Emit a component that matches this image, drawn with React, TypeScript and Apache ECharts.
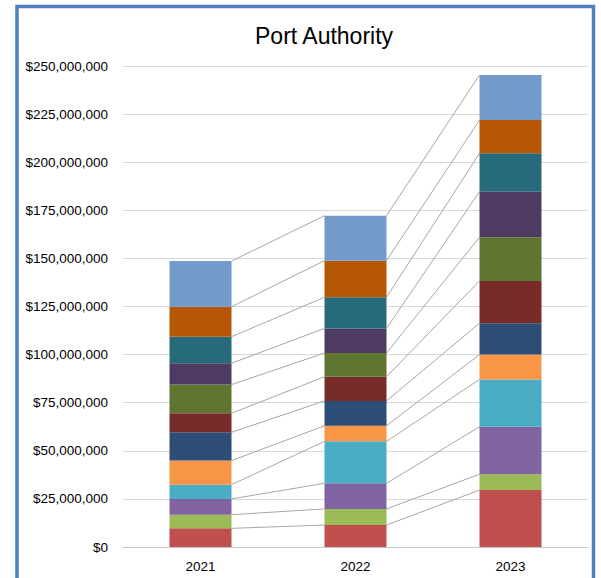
import React, { useEffect, useRef } from "react";
import * as echarts from "echarts";

const categories = ["2021", "2022", "2023"];
const seriesNames = [
  "S1", "S2", "S3", "S4", "S5", "S6", "S7", "S8", "S9", "S10", "S11", "S12",
];
const s1 = [9.7, 11.4, 29.6];
const s2 = [7.1, 8.4, 8.2];
const s3 = [8.2, 13.3, 24.7];
const s4 = [7.4, 21.8, 24.6];
const s5 = [12.5, 8.1, 12.9];
const s6 = [14.7, 12.9, 16.3];
const s7 = [9.9, 12.6, 22.0];
const s8 = [14.9, 12.3, 22.7];
const s9 = [11.1, 12.8, 23.7];
const s10 = [13.8, 16.2, 19.9];
const s11 = [15.6, 19.0, 17.3];
const s12 = [23.7, 23.4, 23.4];
const seriesValuesMillions = [s1, s2, s3, s4, s5, s6, s7, s8, s9, s10, s11, s12];
const colors = [
  "#C0504D", "#9BBB59", "#8064A2", "#4BACC6", "#F79646", "#2C4D75",
  "#772C2A", "#5F7530", "#4D3B62", "#276A7C", "#B65708", "#729ACA",
];
const yTicks = { min: 0, max: 250000000, interval: 25000000 };

const FONT = "'Liberation Sans', Arial, sans-serif";

export default function App() {
  const ref = useRef<HTMLDivElement>(null);
  useEffect(() => {
    if (!ref.current) return;
    const chart = echarts.init(ref.current, null, { renderer: "svg" });
    const values = seriesValuesMillions.map((arr) => arr.map((v) => v * 1e6));
    const cum: number[][] = [];
    values.forEach((arr, k) => {
      cum.push(arr.map((v, i) => (k === 0 ? v : cum[k - 1][i] + v)));
    });
    const lineData: number[][] = [];
    cum.forEach((arr) => {
      for (let i = 0; i < categories.length - 1; i++) {
        lineData.push([i, arr[i], arr[i + 1]]);
      }
    });
    const barSeries = values.map((arr, k) => ({
      name: seriesNames[k],
      type: "bar",
      stack: "total",
      barWidth: "40%",
      data: arr,
      itemStyle: { color: colors[k] },
      emphasis: { disabled: true },
    }));
    chart.setOption({
      animation: false,
      title: {
        text: "Port Authority",
        left: 250,
        top: 19,
        textStyle: { fontSize: 23, fontWeight: "normal", color: "#000", fontFamily: FONT },
      },
      grid: { left: 123, right: 13, top: 66, bottom: 31, containLabel: false },
      xAxis: {
        type: "category",
        data: categories,
        axisLine: { lineStyle: { color: "#C8C8C8", width: 1 } },
        axisTick: { show: false },
        axisLabel: { color: "#000", fontSize: 13.5, fontFamily: FONT, margin: 12 },
      },
      yAxis: {
        type: "value",
        min: yTicks.min,
        max: yTicks.max,
        interval: yTicks.interval,
        axisLine: { show: false },
        axisTick: { show: false },
        splitLine: { lineStyle: { color: "#D9D9D9", width: 1 } },
        axisLabel: {
          color: "#000",
          fontSize: 13.5,
          fontFamily: FONT,
          margin: 15,
          formatter: (v: number) => "$" + v.toLocaleString("en-US"),
        },
      },
      series: [
        ...barSeries,
        {
          type: "custom",
          name: "seriesLines",
          silent: true,
          z: 1,
          data: lineData,
          encode: { x: 0, y: [1, 2] },
          renderItem: (params: any, api: any) => {
            const i = api.value(0);
            const a = api.coord([i, api.value(1)]);
            const b = api.coord([i + 1, api.value(2)]);
            const half = api.size([1, 0])[0] * 0.2;
            return {
              type: "line",
              shape: { x1: a[0] + half, y1: a[1], x2: b[0] - half, y2: b[1] },
              style: { stroke: "#A6A6A6", lineWidth: 1 },
            };
          },
        },
      ],
      graphic: [
        {
          type: "rect",
          shape: { x: 17, y: 6.5, width: 576.5, height: 620 },
          style: { fill: "none", stroke: "#4F81BD", lineWidth: 3.5 },
          silent: true,
        },
      ],
    });
    return () => chart.dispose();
  }, []);
  return (
    <div
      ref={ref}
      style={{ position: "absolute", left: 0, top: 0, width: 601, height: 578, background: "#fff" }}
    />
  );
}
